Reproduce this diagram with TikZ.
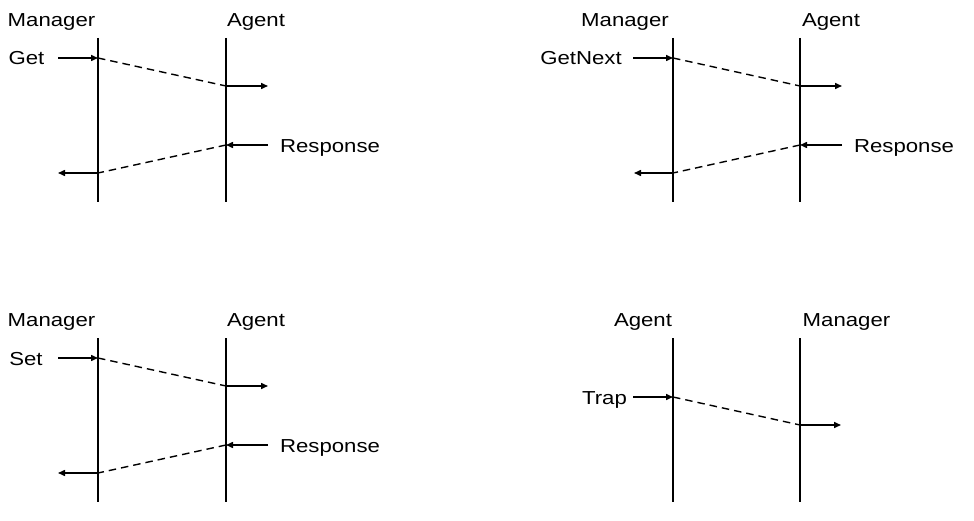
\documentclass[tikz,border=0pt]{standalone}
\usepackage{fontspec}
\setmainfont{Liberation Sans}
\usetikzlibrary{arrows.meta}
\begin{document}
\begin{tikzpicture}[x=1pt,y=-1pt,
  lbl/.style={font=\fontsize{18.8}{22}\selectfont, xscale=1.18, inner sep=0pt, anchor=base},
  life/.style={line width=1.5pt},
  msg/.style={line width=1.5pt, -{Triangle[length=7pt,width=6pt]}},
  dsh/.style={line width=1.4pt, dash pattern=on 7.5pt off 5pt}]
\useasboundingbox (0,0) rectangle (974,521);

% ---------- Top left: Get ----------
\node[lbl] (tlM) at (51.5,26.7) {Manager};
\node[lbl] (tlA) at (256,26.7) {Agent};
\node[lbl] (tlGet) at (26.5,65) {Get};
\node[lbl] (tlResp) at (330,152.5) {Response};
\coordinate (tlMt) at (98,38);  \coordinate (tlMb) at (98,202);
\coordinate (tlAt) at (226,38); \coordinate (tlAb) at (226,202);
\draw[life] (tlMt) -- (tlMb);
\draw[life] (tlAt) -- (tlAb);
\coordinate (tlGs) at (58,58);  \coordinate (tlMg) at (98,58);
\coordinate (tlAg) at (226,86); \coordinate (tlAo) at (268,86);
\coordinate (tlRs) at (268,145); \coordinate (tlAr) at (226,145);
\coordinate (tlMr) at (98,173); \coordinate (tlMo) at (58,173);
\draw[msg] (tlGs) -- (tlMg);
\draw[dsh] (tlMg) -- (tlAg);
\draw[msg] (tlAg) -- (tlAo);
\draw[msg] (tlRs) -- (tlAr);
\draw[dsh] (tlAr) -- (tlMr);
\draw[msg] (tlMr) -- (tlMo);

% ---------- Top right: GetNext ----------
\node[lbl] (trM) at (625,26.7) {Manager};
\node[lbl] (trA) at (831,26.7) {Agent};
\node[lbl] (trGet) at (581,65) {GetNext};
\node[lbl] (trResp) at (904,152.5) {Response};
\coordinate (trMt) at (673,38);  \coordinate (trMb) at (673,202);
\coordinate (trAt) at (800,38);  \coordinate (trAb) at (800,202);
\draw[life] (trMt) -- (trMb);
\draw[life] (trAt) -- (trAb);
\coordinate (trGs) at (633,58);  \coordinate (trMg) at (673,58);
\coordinate (trAg) at (800,86);  \coordinate (trAo) at (842,86);
\coordinate (trRs) at (842,145); \coordinate (trAr) at (800,145);
\coordinate (trMr) at (673,173); \coordinate (trMo) at (634,173);
\draw[msg] (trGs) -- (trMg);
\draw[dsh] (trMg) -- (trAg);
\draw[msg] (trAg) -- (trAo);
\draw[msg] (trRs) -- (trAr);
\draw[dsh] (trAr) -- (trMr);
\draw[msg] (trMr) -- (trMo);

% ---------- Bottom left: Set ----------
\node[lbl] (blM) at (51.5,326.7) {Manager};
\node[lbl] (blA) at (256,326.7) {Agent};
\node[lbl] (blSet) at (26,365) {Set};
\node[lbl] (blResp) at (330,452.5) {Response};
\coordinate (blMt) at (98,338);  \coordinate (blMb) at (98,502);
\coordinate (blAt) at (226,338); \coordinate (blAb) at (226,502);
\draw[life] (blMt) -- (blMb);
\draw[life] (blAt) -- (blAb);
\coordinate (blGs) at (58,358);  \coordinate (blMg) at (98,358);
\coordinate (blAg) at (226,386); \coordinate (blAo) at (268,386);
\coordinate (blRs) at (268,445); \coordinate (blAr) at (226,445);
\coordinate (blMr) at (98,473);  \coordinate (blMo) at (58,473);
\draw[msg] (blGs) -- (blMg);
\draw[dsh] (blMg) -- (blAg);
\draw[msg] (blAg) -- (blAo);
\draw[msg] (blRs) -- (blAr);
\draw[dsh] (blAr) -- (blMr);
\draw[msg] (blMr) -- (blMo);

% ---------- Bottom right: Trap ----------
\node[lbl] (brA) at (643,326.7) {Agent};
\node[lbl] (brM) at (846.5,326.7) {Manager};
\node[lbl] (brTrap) at (604.5,404) {Trap};
\coordinate (brAt) at (673,338);  \coordinate (brAb) at (673,502);
\coordinate (brMt) at (800,338);  \coordinate (brMb) at (800,502);
\draw[life] (brAt) -- (brAb);
\draw[life] (brMt) -- (brMb);
\coordinate (brTs) at (633,397);  \coordinate (brAg) at (673,397);
\coordinate (brMg) at (800,425);  \coordinate (brMo) at (841,425);
\draw[msg] (brTs) -- (brAg);
\draw[dsh] (brAg) -- (brMg);
\draw[msg] (brMg) -- (brMo);
\end{tikzpicture}
\end{document}
